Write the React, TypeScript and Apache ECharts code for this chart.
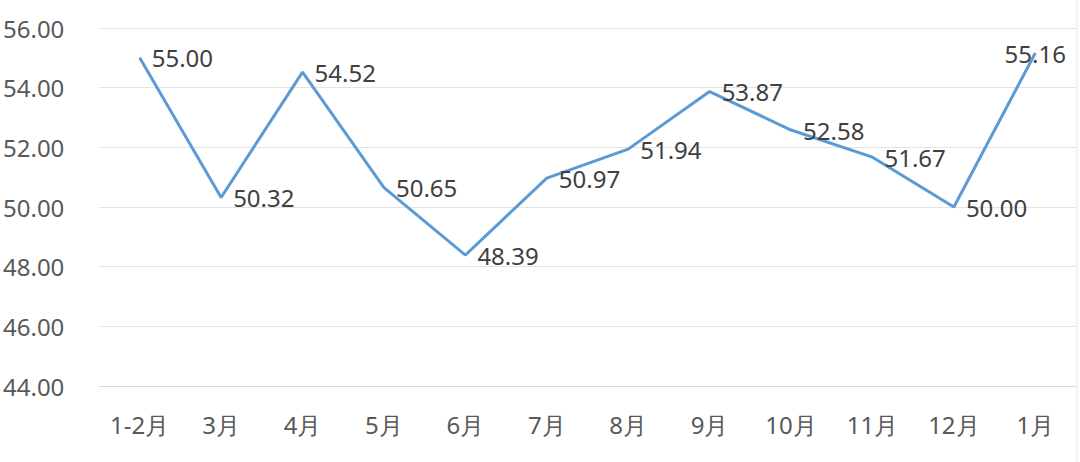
import React, { useEffect, useRef } from "react";
import * as echarts from "echarts";

const categories = ["1-2月", "3月", "4月", "5月", "6月", "7月", "8月", "9月", "10月", "11月", "12月", "1月"];
const values = [55.0, 50.32, 54.52, 50.65, 48.39, 50.97, 51.94, 53.87, 52.58, 51.67, 50.0, 55.16];
const yTicks = { min: 44, max: 56, interval: 2 };

export default function App() {
  const ref = useRef<HTMLDivElement>(null);
  useEffect(() => {
    document.body.style.margin = "0";
    const chart = echarts.init(ref.current!, undefined, { renderer: "svg" });
    const font = "Noto Sans";
    chart.setOption({
      animation: false,
      backgroundColor: "#ffffff",
      grid: { left: 97, right: 4, top: 28, bottom: 76 },
      xAxis: {
        type: "category",
        data: categories,
        boundaryGap: true,
        axisLine: { show: true, lineStyle: { color: "#d9d9d9", width: 1 } },
        axisTick: { show: false },
        axisLabel: { color: "#595959", fontSize: 24, fontFamily: font, margin: 26 },
      },
      yAxis: {
        type: "value",
        min: yTicks.min,
        max: yTicks.max,
        interval: yTicks.interval,
        axisLine: { show: false },
        axisTick: { show: false },
        splitLine: { lineStyle: { color: "#e3e3e3", width: 1 } },
        axisLabel: {
          color: "#595959",
          fontSize: 24,
          fontFamily: font,
          align: "left",
          margin: 96,
          formatter: (v: number) => v.toFixed(2),
        },
      },
      series: [
        {
          type: "line",
          data: values.map((v, i) =>
            i === values.length - 1
              ? { value: v, label: { position: "inside", offset: [12, 2] } }
              : v
          ),
          symbol: "circle",
          symbolSize: 2,
          showSymbol: true,
          itemStyle: { color: "rgba(0,0,0,0)", borderWidth: 0 },
          lineStyle: { color: "#5b9bd5", width: 3 },
          label: {
            show: true,
            position: "right",
            distance: 11,
            offset: [0, 2],
            color: "#404040",
            fontSize: 24,
            fontFamily: font,
            formatter: (p: any) => Number(p.value).toFixed(2),
          },
          labelLayout: { hideOverlap: false },
        },
      ],
      graphic: [
        {
          type: "line",
          shape: { x1: 1077, y1: 0, x2: 1077, y2: 462 },
          style: { stroke: "#e8e8e8", lineWidth: 1 },
        },
      ],
    });
    return () => chart.dispose();
  }, []);
  return <div ref={ref} style={{ width: 1080, height: 462, position: "absolute", left: 0, top: 0 }} />;
}
